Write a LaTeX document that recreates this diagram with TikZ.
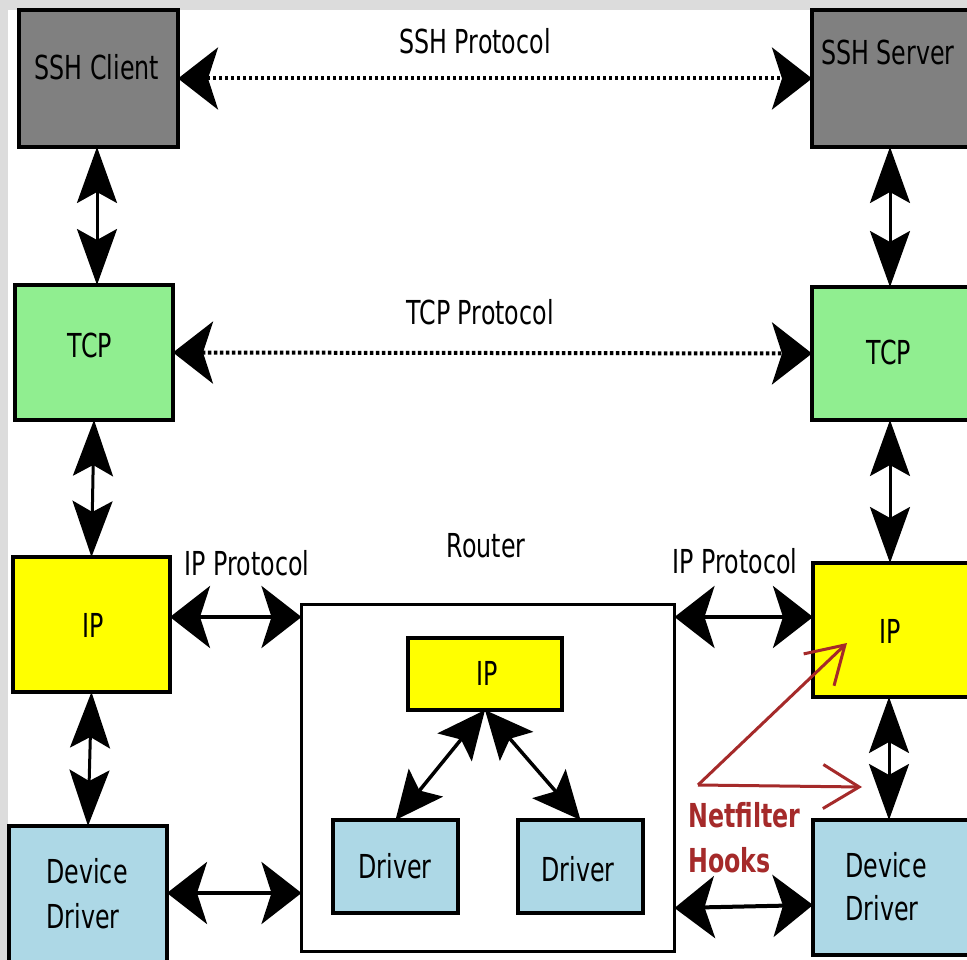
\documentclass[tikz,border=0pt]{standalone}
\usepackage{fontspec}
\setmainfont{DejaVu Sans}[FakeStretch=0.72]
\usetikzlibrary{arrows.meta}

\definecolor{sshgray}{HTML}{808080}
\definecolor{tcpgreen}{HTML}{90EE90}
\definecolor{ipyellow}{HTML}{FFFF00}
\definecolor{drvblue}{HTML}{ADD8E6}
\definecolor{hookred}{HTML}{A52A2A}
\definecolor{framegray}{HTML}{DCDCDC}

\tikzset{
  box/.style={draw=black, line width=3.5pt, inner sep=0pt, outer sep=0pt},
  lbl/.style={anchor=base, inner sep=0pt, font=\fontsize{33}{40}\selectfont},
  harr/.style={line width=4pt,
    {Stealth[length=40pt,width=62pt,inset=10pt]}-{Stealth[length=40pt,width=62pt,inset=10pt]}},
  varr/.style={line width=3pt,
    {Stealth[length=56pt,width=40pt,inset=11pt]}-{Stealth[length=56pt,width=40pt,inset=11pt]}},
  darr/.style={line width=3.5pt,
    {Stealth[length=48pt,width=44pt,inset=10pt]}-{Stealth[length=48pt,width=44pt,inset=10pt]}},
  dotline/.style={dash pattern=on 3.5pt off 2.5pt},
  hookarr/.style={draw=hookred, line width=3pt, -{Straight Barb[length=36pt,width=44pt]}},
  hooktxt/.style={anchor=base west, inner sep=0pt, text=hookred,
    font=\fontsize{33}{40}\selectfont\bfseries},
}

\begin{document}
\begin{tikzpicture}[x=1pt,y=-1pt]
  % page frame
  \fill[framegray] (0,0) rectangle (967,960);
  \fill[white] (8,10) rectangle (967,960);
  \useasboundingbox (0,0) rectangle (967,960);
  \clip (0,0) rectangle (967,960);

  % left host stack
  \node[box, fill=sshgray, minimum width=159pt, minimum height=137pt] (cli) at (98.5,78.5) {};
  \node[box, fill=tcpgreen, minimum width=158pt, minimum height=135pt] (tcpL) at (94,352.5) {};
  \node[box, fill=ipyellow, minimum width=157pt, minimum height=135pt] (ipL) at (91.5,624.5) {};
  \node[box, fill=drvblue, minimum width=158pt, minimum height=136pt] (ddL) at (88,894) {};

  % right host stack
  \node[box, fill=sshgray, minimum width=158pt, minimum height=137pt] (srv) at (891,78.5) {};
  \node[box, fill=tcpgreen, minimum width=158pt, minimum height=133pt] (tcpR) at (891,353.5) {};
  \node[box, fill=ipyellow, minimum width=157pt, minimum height=134pt] (ipR) at (891.5,630) {};
  \node[box, fill=drvblue, minimum width=157pt, minimum height=135pt] (ddR) at (891.5,887.5) {};

  % router
  \node[box, line width=3pt, fill=white, minimum width=373pt, minimum height=347pt] (router) at (488,778) {};
  \node[box, fill=ipyellow, minimum width=154pt, minimum height=72pt] (ipIn) at (485,674) {};
  \node[box, fill=drvblue, minimum width=125pt, minimum height=93pt] (drL) at (395.5,866.5) {};
  \node[box, fill=drvblue, minimum width=125pt, minimum height=93pt] (drR) at (580.5,866.5) {};

  % box texts
  \node[lbl] (tCli) at (97,80) {SSH Client};
  \node[lbl] (tSrv) at (888,65) {SSH Server};
  \node[lbl] (tTcpL) at (90,357) {TCP};
  \node[lbl] (tTcpR) at (889,364) {TCP};
  \node[lbl] (tIpL) at (93,637) {IP};
  \node[lbl] (tIpR) at (890,643) {IP};
  \node[lbl] (tDdL1) at (87,883) {Device};
  \node[lbl] (tDdL2) at (83,928) {Driver};
  \node[lbl] (tDdR1) at (886,877) {Device};
  \node[lbl] (tDdR2) at (882,920) {Driver};
  \node[lbl] (tIpIn) at (487,685) {IP};
  \node[lbl] (tDrL) at (395,878) {Driver};
  \node[lbl] (tDrR) at (578,881) {Driver};

  % free-standing labels
  \node[lbl] (tSsh) at (475,54) {SSH Protocol};
  \node[lbl] (tTcp) at (480,324) {TCP Protocol};
  \node[lbl] (tRouter) at (486,557) {Router};
  \node[lbl] (tIpPL) at (247,575) {IP Protocol};
  \node[lbl] (tIpPR) at (735,573) {IP Protocol};

  % peer protocols
  \draw[harr, dotline] (cli.east) -- (srv.west);
  \draw[harr, dotline] (tcpL.east) -- (tcpR.west);

  % vertical stack links
  \draw[varr] (cli.south -| 97,0) -- (tcpL.north -| 97,0);
  \draw[varr] (srv.south -| 890,0) -- (tcpR.north -| 890,0);
  \draw[varr] (tcpL.south) -- (ipL.north);
  \draw[varr] (tcpR.south -| 890,0) -- (ipR.north -| 890,0);
  \draw[varr] (ipL.south) -- (ddL.north);
  \draw[varr] (ipR.south -| 889,0) -- (ddR.north -| 889,0);

  % links to the router
  \draw[harr] (ipL.east |- 0,617) -- (router.west |- 0,617);
  \draw[harr] (router.east |- 0,617) -- (ipR.west |- 0,617);
  \draw[harr] (ddL.east |- 0,893) -- (router.west |- 0,893);
  \draw[harr] (router.east |- 0,908) -- (ddR.west |- 0,905);

  % inside the router
  \draw[darr] (ipIn.south) -- (drL.north);
  \draw[darr] (ipIn.south) -- (drR.north);

  % netfilter hooks
  \coordinate (hk) at (698,785);
  \coordinate (hkIp) at (847,643);
  \coordinate (hkDd) at (862,787);
  \draw[hookarr] (hk) -- (hkIp);
  \draw[hookarr] (hk) -- (hkDd);
  \node[hooktxt] (tHk1) at (688,827) {Netfilter};
  \node[hooktxt] (tHk2) at (688,872) {Hooks};
\end{tikzpicture}
\end{document}
